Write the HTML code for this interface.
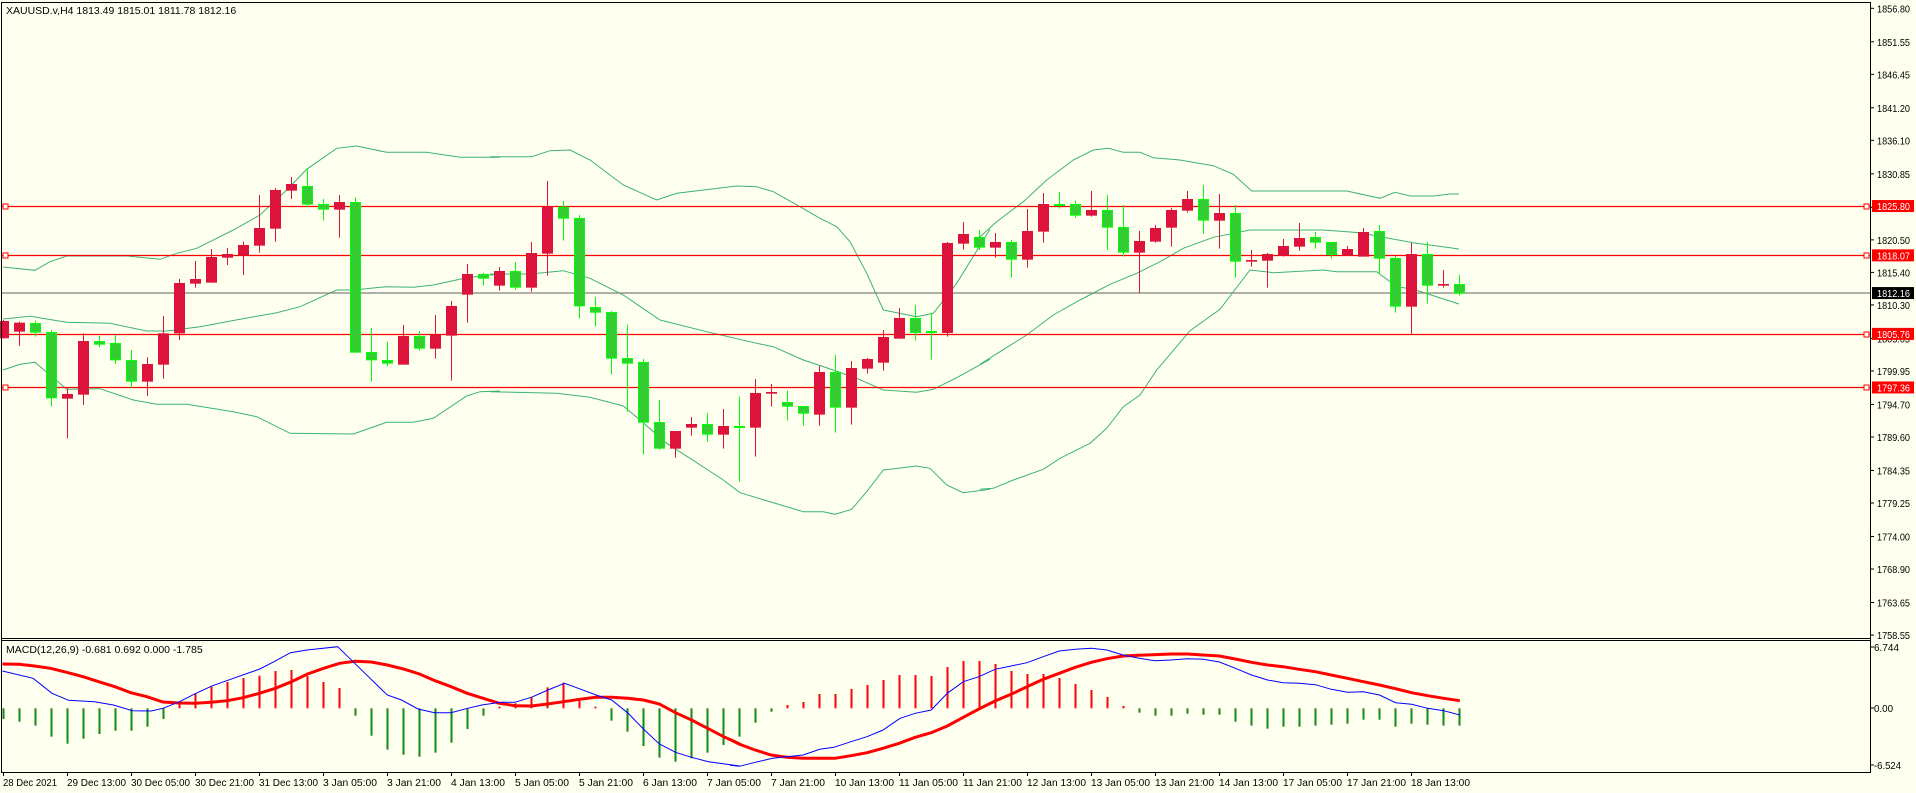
<!DOCTYPE html>
<html><head><meta charset="utf-8">
<style>
html,body{margin:0;padding:0;background:#FFFFF0;}
svg{display:block;font-family:"Liberation Sans",sans-serif;}
</style></head><body>
<svg id="c" width="1916" height="793" xmlns="http://www.w3.org/2000/svg"></svg>
<script>
let s='';
s+='<rect x="0" y="0" width="1916" height="793" fill="#FFFFF0"/>';
function py(p){return 8.3+(1856.8-p)*6.379;}
const bx=k=>3+16*k;
function pl(pts,ox,oy,sx,sy,col,w){let d=pts.map((p,i)=>(i?'L':'M')+(ox+p[0]/sx).toFixed(1)+','+(oy+p[1]/sy).toFixed(1)).join('');return '<path d="'+d+'" fill="none" stroke="'+col+'" stroke-width="'+w+'"/>';}
function tx(x,y,t,size,col,len){return '<text x="'+x+'" y="'+y+'" font-size="'+size+'" fill="'+col+'"'+(len?' textLength="'+len+'" lengthAdjust="spacingAndGlyphs"':'')+'>'+t+'</text>';}
const BC='#3CB371';
s+=pl([[9,441],[105,451],[150,425],[200,408],[380,408],[480,418],[530,400],[590,385],[700,330],[780,285],[860,210],[920,148],[1010,85],[1070,78],[1160,97],[1280,97],[1380,112],[1500,112]],0,120,3,3,BC,1);
s+=pl([[9,597],[90,589],[200,607],[330,610],[440,633],[500,633],[600,620],[720,598],[830,578],[900,560],[1010,510],[1060,510],[1160,500],[1240,502],[1300,495],[1400,473],[1500,462]],0,120,3,3,BC,1);
s+=pl([[9,750],[60,733],[105,727],[200,808],[300,806],[400,840],[470,853],[560,853],[700,875],[770,890],[870,940],[1060,942],[1160,907],[1240,907],[1300,895],[1400,828],[1440,815],[1500,813]],0,120,3,3,BC,1);
s+=pl([[0,20],[125,20],[180,2],[240,0],[300,30],[400,105],[500,150],[560,130],[740,108],[800,110],[850,125],[930,170],[990,205],[1040,230],[1080,275],[1130,370],[1180,480],[1280,500],[1330,490],[1400,400],[1500,238]],490,150,3,3,BC,1);
s+=pl([[0,372],[120,372],[220,362],[300,385],[400,435],[510,510],[650,545],[800,580],[850,590],[940,630],[1030,660],[1100,685],[1180,720],[1280,727],[1330,718],[1400,683],[1500,628]],490,150,3,3,BC,1);
s+=pl([[0,725],[200,730],[300,742],[400,768],[450,810],[530,880],[600,925],[700,990],[750,1028],[940,1085],[1000,1085],[1035,1093],[1085,1078],[1130,1025],[1180,960],[1280,948],[1320,955],[1370,1005],[1420,1028],[1500,1018]],490,150,3,3,BC,1);
s+=pl([[0,290],[50,245],[130,185],[200,120],[280,60],[340,30],[385,25],[430,37],[480,37],[520,53],[600,60],[700,77],[760,103],[815,153],[1100,153],[1200,175],[1245,157],[1290,168],[1360,168],[1410,162],[1437,162]],980,140,3,3,BC,1);
s+=pl([[0,673],[60,635],[140,585],[220,525],[300,480],[390,433],[470,400],[540,365],[610,325],[700,292],[810,270],[1030,270],[1140,278],[1210,292],[1300,308],[1437,327]],980,140,3,3,BC,1);
s+=pl([[0,1048],[40,1045],[100,1020],[190,988],[240,955],[330,910],[380,865],[430,800],[480,765],[530,690],[630,572],[720,508],[810,390],[880,398],[1030,390],[1070,395],[1190,395],[1250,440],[1300,448],[1437,492]],980,140,3,3,BC,1);
s+='<line x1="2" x2="1870" y1="293" y2="293" stroke="#808080" stroke-width="1.3"/>';
[1825.80,1818.07,1805.76,1797.36].forEach(p=>{const y=Math.round(py(p))+0.5;s+='<line x1="2" x2="1870" y1="'+y+'" y2="'+y+'" stroke="#FF0000" stroke-width="1.3"/>';s+='<rect x="3" y="'+(y-2.5)+'" width="5" height="5" fill="#FFFFF0" stroke="#FF0000"/>';s+='<rect x="1864" y="'+(y-2.5)+'" width="5" height="5" fill="#FFFFF0" stroke="#FF0000"/>';});
const RC='#DC143C',GF='#32CD32',GS='#00FF00';
function cand(arr,oy){arr.forEach(a=>{const[k,c,wt,wb,bt,bb]=a;const x=bx(k);const y1=oy+wt/3,y2=oy+wb/3,b1=oy+bt/3,b2=oy+bb/3;
 if(c=='r'){s+='<line x1="'+(x+.5)+'" x2="'+(x+.5)+'" y1="'+y1+'" y2="'+y2+'" stroke="'+RC+'" stroke-width="1"/>';s+='<rect x="'+(x-5)+'" y="'+b1+'" width="11" height="'+Math.max(1.5,b2-b1)+'" fill="'+RC+'"/>';}
 else{s+='<line x1="'+(x+.5)+'" x2="'+(x+.5)+'" y1="'+y1+'" y2="'+y2+'" stroke="'+GS+'" stroke-width="1"/>';s+='<rect x="'+(x-4.5)+'" y="'+(b1+.5)+'" width="10" height="'+Math.max(1,b2-b1-1)+'" fill="'+GF+'" stroke="'+GS+'" stroke-width="1"/>';}});}
cand([[0,'r',600,655,603,655],[1,'r',605,678,608,635],[2,'g',602,650,609,638],[3,'g',630,860,636,835],[4,'r',805,955,822,836],[5,'r',640,855,663,824],[6,'g',648,683,663,674],[7,'g',645,732,669,721],[8,'g',690,805,720,785],[9,'r',712,828,732,785],[10,'r',588,776,640,734],[11,'r',477,660,489,640],[12,'r',423,503,477,491],[13,'r',387,488,411,488],[14,'r',384,435,402,413],[15,'r',365,465,375,406],[16,'r',225,398,324,377],[17,'r',204,365,210,326],[18,'r',171,237,192,212],[19,'g',145,262,198,254],[20,'g',237,302,252,269],[21,'r',225,353,246,269],[22,'g',232,698,246,698],[23,'g',624,785,696,721],[24,'g',665,738,720,731],[25,'r',615,734,648,734],[26,'g',633,692,648,686],[27,'r',585,716,645,686],[28,'r',543,782,558,647],[29,'r',432,608,462,524],[30,'g',459,497,462,476]],120);
cand([[31,'r',351,422,363,407],[32,'g',336,419,363,413],[33,'r',276,425,309,413],[34,'r',93,377,170,311],[35,'g',153,272,170,206],[36,'g',195,506,204,469],[37,'g',441,530,471,488],[38,'g',483,674,486,626],[39,'g',524,785,624,641],[40,'g',627,914,636,818],[41,'g',750,899,816,896],[42,'r',843,923,843,896],[43,'r',801,857,822,833],[44,'g',789,875,822,854],[45,'r',777,896,828,854],[46,'g',740,995,828,833],[47,'r',687,920,729,833],[48,'r',702,770,726,731],[49,'g',722,812,756,770],[50,'g',768,827,768,791],[51,'r',648,827,666,794],[52,'g',615,848,666,773],[53,'r',633,824,654,773],[54,'r',624,671,627,656],[55,'r',540,662,561,638],[56,'r',474,566,504,566],[57,'g',465,572,504,549],[58,'g',489,629,543,549],[59,'r',276,560,279,549],[60,'r',216,299,252,281]],150);
cand([[61,'g',270,330,291,323],[62,'r',279,353,306,323],[63,'g',300,413,306,359],[64,'r',207,383,273,359],[65,'r',159,308,192,275],[66,'g',156,206,192,198],[67,'g',182,233,192,227],[68,'r',153,230,210,227],[69,'g',165,329,210,263],[70,'g',195,350,261,338],[71,'r',273,459,303,338],[72,'r',255,308,264,305],[73,'r',204,320,210,263],[74,'r',153,218,177,212],[75,'g',135,281,177,242],[76,'r',162,326,219,242],[77,'g',195,413,219,365],[78,'r',330,380,360,365],[79,'r',339,443,342,362],[80,'r',297,350,318,347],[81,'r',249,332,294,320],[82,'g',276,326,291,308],[83,'g',306,356,306,345],[84,'r',318,347,327,347],[85,'r',264,350,276,350],[86,'g',255,401,273,356],[87,'g',348,518,354,500],[88,'r',309,584,342,500],[89,'g',306,491,342,437],[90,'r',390,443,432,437],[91,'g',405,467,432,461]],140);
s+='<line x1="1.5" x2="1.5" y1="2" y2="772" stroke="#000"/>';
s+='<line x1="1870.5" x2="1870.5" y1="2" y2="772" stroke="#000"/>';
s+='<line x1="1" x2="1871" y1="2.5" y2="2.5" stroke="#000"/>';
s+='<line x1="1" x2="1871" y1="638.5" y2="638.5" stroke="#000"/>';
s+='<line x1="1" x2="1871" y1="640.5" y2="640.5" stroke="#000"/>';
s+='<line x1="1" x2="1871" y1="772.5" y2="772.5" stroke="#000"/>';
['1856.80','1851.55','1846.45','1841.20','1836.10','1830.85','1825.60','1820.50','1815.40','1810.30','1805.05','1799.95','1794.70','1789.60','1784.35','1779.25','1774.00','1768.90','1763.65','1758.55'].forEach(t=>{const y=py(+t);s+='<line x1="1870" x2="1874" y1="'+y+'" y2="'+y+'" stroke="#000"/>';s+=tx(1877,y+4,t,10.5,'#000',33);});
function lab(p,txt,bg){const y=py(p);s+='<rect x="1872" y="'+(y-6)+'" width="42" height="12" fill="'+bg+'"/>'+tx(1877,y+4,txt,10.5,'#fff',33);}
lab(1825.80,'1825.80','#FF0000');lab(1818.07,'1818.07','#FF0000');lab(1805.76,'1805.76','#FF0000');lab(1797.36,'1797.36','#FF0000');lab(1812.16,'1812.16','#000');
s+=tx(6,14,'XAUUSD.v,H4  1813.49 1815.01 1811.78 1812.16',10.5,'#000',0);
const h1=[237,245,257,290,311,296,282,272,272,260,237,187,162,140,126,114,107,93,90,108,126,144,227,287,329,344,350,338,308,267,227,200,190,172,142,128,182,200,242,275,318,353,365,355,338,315];
const h2=[290,248,215,195,186,162,162,147,135,120,105,105,108,81,63,63,72,93,102,102,114,132,150,171,198,218,227,227,221,224,224,245,257,266,260,260,257,254,251,239,239,260,251,254,257,257];
const hist=h1.concat(h2);
const my=z=>640+z/3;
hist.forEach((z,k)=>{const x=bx(k);const y=my(z),y0=my(205);const col=z<205?'#FF0000':'#108A10';s+='<rect x="'+(x-0.5)+'" y="'+Math.min(y,y0)+'" width="2" height="'+Math.max(1,Math.abs(y-y0))+'" fill="'+col+'"/>';});
const SX=2.117;
s+=pl([[5,72],[40,73],[73,78],[107,85],[141,97],[176,110],[209,125],[243,140],[277,158],[311,170],[345,186],[379,189],[413,190],[447,187],[481,182],[515,173],[549,160],[583,145],[617,125],[651,102],[685,85],[719,70],[752,64],[786,66],[820,75],[854,87],[888,102],[921,122],[955,140],[989,160],[1023,175],[1057,190],[1091,197],[1125,198],[1159,192],[1193,185],[1227,178],[1261,172],[1295,172],[1329,175],[1362,180],[1396,192],[1430,218],[1464,240],[1498,265],[1532,290],[1566,312]],0,640,SX,3,'#FF0000',3);
s+=pl([[0,298],[19,312],[53,330],[87,345],[121,352],[155,355],[222,355],[256,347],[290,338],[324,325],[358,310],[392,292],[426,278],[460,258],[494,232],[527,207],[561,183],[595,163],[629,140],[663,118],[697,100],[731,82],[765,67],[798,56],[832,48],[866,46],[934,42],[968,42],[1002,45],[1036,48],[1070,57],[1104,67],[1138,75],[1171,80],[1205,88],[1239,95],[1273,105],[1307,115],[1341,125],[1375,135],[1409,146],[1443,158],[1477,167],[1511,175],[1545,182]],730,640,SX,3,'#FF0000',3);
s+=pl([[5,93],[70,115],[110,160],[145,181],[200,185],[240,195],[280,212],[320,213],[345,205],[380,185],[415,160],[450,137],[480,122],[550,87],[580,65],[615,38],[650,30],[715,20],[740,55],[780,110],[820,165],[850,180],[885,207],[920,218],[955,218],[990,205],[1020,195],[1060,187],[1090,187],[1125,172],[1160,150],[1195,130],[1230,148],[1262,165],[1295,180],[1330,220],[1362,267],[1396,312],[1430,337],[1464,352],[1500,365],[1566,378]],0,640,SX,3,'#0000FF',1);
s+=pl([[0,376],[20,379],[50,368],[90,355],[120,350],[155,345],[190,328],[220,322],[256,305],[290,290],[324,270],[360,235],[392,220],[426,210],[460,160],[494,125],[527,110],[561,88],[595,78],[629,68],[663,50],[697,33],[731,28],[765,25],[798,30],[832,45],[866,55],[900,62],[934,60],[968,56],[1002,58],[1036,66],[1070,85],[1104,105],[1138,120],[1171,128],[1205,130],[1239,134],[1273,148],[1307,157],[1341,155],[1375,165],[1409,188],[1443,193],[1477,205],[1511,212],[1545,225]],730,640,SX,3,'#0000FF',1);
s+=tx(6,653,'MACD(12,26,9) -0.681 0.692 0.000 -1.785',10.5,'#000',0);
[['6.744',647,25],['0.00',708,19],['-6.524',765,27]].forEach(a=>{s+='<line x1="1870" x2="1874" y1="'+a[1]+'" y2="'+a[1]+'" stroke="#000"/>'+tx(1874,a[1]+4,a[0],10.5,'#000',a[2]);});
['28 Dec 2021','29 Dec 13:00','30 Dec 05:00','30 Dec 21:00','31 Dec 13:00','3 Jan 05:00','3 Jan 21:00','4 Jan 13:00','5 Jan 05:00','5 Jan 21:00','6 Jan 13:00','7 Jan 05:00','7 Jan 21:00','10 Jan 13:00','11 Jan 05:00','11 Jan 21:00','12 Jan 13:00','13 Jan 05:00','13 Jan 21:00','14 Jan 13:00','17 Jan 05:00','17 Jan 21:00','18 Jan 13:00'].forEach((t,j)=>{const x=3+64*j;s+='<line x1="'+(x+.5)+'" x2="'+(x+.5)+'" y1="772" y2="776" stroke="#000"/>'+tx(x,786,t,10.5,'#000',Math.round(t.length*4.9));});
document.getElementById('c').innerHTML=s;
</script>
</body></html>
